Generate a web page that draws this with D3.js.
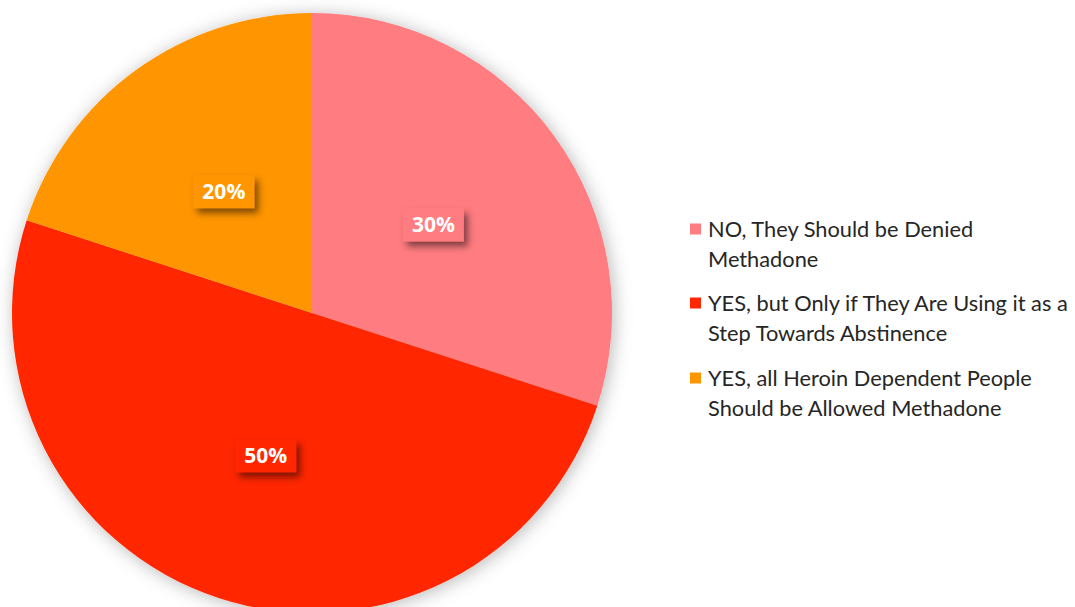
<!DOCTYPE html>
<html>
<head>
<meta charset="utf-8">
<script src="https://cdn.jsdelivr.net/npm/d3@7"></script>
<style>
  html, body { margin: 0; padding: 0; background: #fff; }
  svg { display: block; }
</style>
</head>
<body>
<svg id="chart" width="1075" height="607"></svg>
<script>
// Survey answers and their shares
const categories = [
  "NO, They Should be Denied Methadone",
  "YES, but Only if They Are Using it as a Step Towards Abstinence",
  "YES, all Heroin Dependent People Should be Allowed Methadone"
];
const values = [30, 50, 20];
const valueLabels = ["30%", "50%", "20%"];
// Legend text, wrapped into lines
const legendLines = [
  ["NO, They Should be Denied", "Methadone"],
  ["YES, but Only if They Are Using it as a", "Step Towards Abstinence"],
  ["YES, all Heroin Dependent People", "Should be Allowed Methadone"]
];
const colors = ["#FF7C80", "#FF2600", "#FF9500"];

const svg = d3.select("#chart");
const cx = 312, cy = 313, R = 300;

const defs = svg.append("defs");
const glow = defs.append("filter").attr("id", "pieShadow")
  .attr("x", "-20%").attr("y", "-20%").attr("width", "140%").attr("height", "140%");
glow.append("feDropShadow").attr("dx", 2).attr("dy", 2)
  .attr("stdDeviation", 9).attr("flood-color", "#000").attr("flood-opacity", 0.28);

const boxShadow = defs.append("filter").attr("id", "boxShadow")
  .attr("x", "-30%").attr("y", "-40%").attr("width", "170%").attr("height", "200%");
boxShadow.append("feDropShadow").attr("dx", 4).attr("dy", 5)
  .attr("stdDeviation", 3.5).attr("flood-color", "#000").attr("flood-opacity", 0.5);

const pie = d3.pie().sort(null).value(d => d);
const arcs = pie(values);
const arc = d3.arc().innerRadius(0).outerRadius(R);
const labelArc = d3.arc().innerRadius(R * 0.5).outerRadius(R * 0.5);

const g = svg.append("g").attr("transform", `translate(${cx},${cy})`);
const pieG = g.append("g").attr("filter", "url(#pieShadow)");
pieG.selectAll("path").data(arcs).join("path")
  .attr("d", arc)
  .attr("fill", (d, i) => colors[i]);

// Value labels in filled boxes
const labelFont = "'Open Sans', 'Liberation Sans', sans-serif";
const lg = g.selectAll("g.lbl").data(arcs).join("g")
  .attr("class", "lbl")
  .attr("transform", d => `translate(${labelArc.centroid(d)})`);
const boxW = 61, boxH = 33;
lg.append("rect")
  .attr("x", -boxW / 2).attr("y", -boxH / 2)
  .attr("width", boxW).attr("height", boxH)
  .attr("fill", (d, i) => colors[i])
  .attr("filter", "url(#boxShadow)");
lg.append("text")
  .attr("text-anchor", "middle")
  .attr("dy", "0.36em")
  .attr("fill", "#fff")
  .attr("font-family", labelFont)
  .attr("font-weight", "bold")
  .attr("font-size", 21)
  .text((d, i) => valueLabels[i]);

// Legend
const legendFont = "'Lato', 'Noto Sans', sans-serif";
const legendX = 690, textX = 708;
const entryY = [229, 303, 378];
const lineGap = 30;
const legend = svg.append("g");
const entries = legend.selectAll("g").data(categories).join("g")
  .attr("transform", (d, i) => `translate(0,${entryY[i]})`);
entries.append("rect")
  .attr("x", legendX).attr("y", -5.5)
  .attr("width", 11).attr("height", 11)
  .attr("fill", (d, i) => colors[i]);
const texts = entries.append("text")
  .attr("font-family", legendFont)
  .attr("font-size", 19)
  .attr("fill", "#262626");
texts.each(function(d, i) {
  const t = d3.select(this);
  legendLines[i].forEach((line, j) => {
    t.append("tspan").attr("x", textX).attr("y", j * lineGap).attr("dy", "0.35em").text(line);
  });
});
// Fit the legend font so the widest line spans the available width
const widest = texts.nodes()[1].firstChild.getComputedTextLength();
const fs = 19 * 360 / widest;
texts.attr("font-size", fs);
</script>
</body>
</html>
